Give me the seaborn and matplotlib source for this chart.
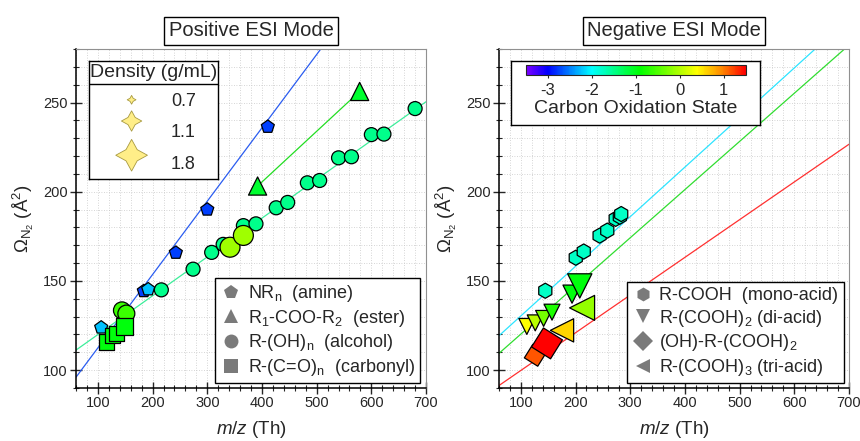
import numpy as np
import pandas as pd
import seaborn as sns
import matplotlib
matplotlib.use("Agg")
import matplotlib.pyplot as plt
from matplotlib.colors import LinearSegmentedColormap, Normalize
from matplotlib.cm import ScalarMappable
from matplotlib.lines import Line2D
from matplotlib.ticker import MultipleLocator

# %% Data
# positive mode: amines, esters, alcohols, carbonyls
amine_mz = [184, 242.5, 300, 410.7, 106, 192]
amine_ccs = [144.3, 165.8, 190, 236.4, 123.9, 145.3]
amine_ox = [-2.75, -2.75, -2.75, -2.75, -2.25, -2.25]
amine_dens = [0.83, 0.83, 0.83, 0.83, 0.83, 0.83]

ester_mz = [392, 578.6]
ester_ccs = [203.2, 256.2]
ester_ox = [-1.1, -1.1]
ester_dens = [1.0, 1.0]

alc_mz = [144, 152, 216, 274, 308, 329, 366, 389, 426, 447, 483, 505.5,
          540, 563.6, 600, 623, 680, 341.6, 366]
alc_ccs = [133.5, 131.7, 145, 156.6, 166, 170.5, 181, 182, 191, 194, 205,
           206.3, 219, 219.6, 232, 232.3, 246.6, 168.9, 175.5]
alc_ox = [-0.6, -0.6] + [-1.5] * 15 + [-0.1, -0.1]
alc_dens = [0.95, 0.95] + [0.84] * 15 + [1.08, 1.08]

carb_mz = [115, 126, 134, 148]
carb_ccs = [115.8, 119.5, 120.5, 124.5]
carb_ox = [-0.95, -0.95, -0.95, -0.95]
carb_dens = [0.88, 0.88, 0.88, 0.95]

# negative mode: mono-, di-, tri-acids and hydroxy di-acids
mono_mz = [144.7, 200.4, 215, 244, 258, 273.4, 281, 283.5]
mono_ccs = [144.5, 163, 166.5, 175.4, 178.2, 184.8, 186, 187.5]
mono_ox = [-1.75] * 8
mono_dens = [0.88] * 8

di_mz = [110.9, 126.3, 141.6, 157, 193.6, 207.7]
di_ccs = [124.5, 126.5, 129, 132.5, 142.6, 147.2]
di_ox = [0.4, 0.05, -0.3, -0.75, -0.95, -0.95]
di_dens = [0.91, 0.91, 0.91, 0.91, 1.0, 1.31]

tri_mz = [175.3, 212]
tri_ccs = [122.3, 134.9]
tri_ox = [0.6, -0.15]
tri_dens = [1.25, 1.35]

hyd_mz = [126.3, 147.8]
hyd_ccs = [108.3, 115]
hyd_ox = [1.15, 1.5]
hyd_dens = [1.2, 1.8]

# trend lines (intercept, slope)
pos_lines = {"#2a5cf0": (71.4, 0.411), "#3cee9a": (98.2, 0.2175)}
neg_lines = {"#2ce4ff": (102.6, 0.278), "#30dd30": (93.2, 0.270), "#ff3030": (78.7, 0.2113)}

dens_levels = [0.7, 1.1, 1.8]
cbar_ticks = [-3, -2, -1, 0, 1]


def make_df(parts):
    rows = []
    for cls, mz, ccs, ox, dens in parts:
        rows.append(pd.DataFrame({"mz": mz, "ccs": ccs, "ox": ox, "dens": dens, "cls": cls}))
    return pd.concat(rows, ignore_index=True)


df_pos = make_df([
    ("amine", amine_mz, amine_ccs, amine_ox, amine_dens),
    ("ester", ester_mz, ester_ccs, ester_ox, ester_dens),
    ("alcohol", alc_mz, alc_ccs, alc_ox, alc_dens),
    ("carbonyl", carb_mz, carb_ccs, carb_ox, carb_dens),
])
df_neg = make_df([
    ("mono", mono_mz, mono_ccs, mono_ox, mono_dens),
    ("di", di_mz, di_ccs, di_ox, di_dens),
    ("tri", tri_mz, tri_ccs, tri_ox, tri_dens),
    ("hydroxy", hyd_mz, hyd_ccs, hyd_ox, hyd_dens),
])

# %% Style
sns.set_style("ticks")
plt.rcParams["font.family"] = ["Liberation Sans", "DejaVu Sans"]
plt.rcParams["mathtext.fontset"] = "custom"
plt.rcParams["mathtext.rm"] = "Liberation Sans"
plt.rcParams["mathtext.it"] = "Liberation Sans:italic"
plt.rcParams["mathtext.bf"] = "Liberation Sans:bold"
plt.rcParams["axes.unicode_minus"] = False

cmap = LinearSegmentedColormap.from_list("ox", [
    (0.0, "#8000ff"), (0.1, "#0000ff"), (0.3, "#00ffff"), (0.52, "#00ff00"),
    (0.78, "#ffff00"), (0.9, "#ff8000"), (1.0, "#ff0000")])
norm = Normalize(-3.5, 1.5)
size_kw = dict(sizes=(40, 520), size_norm=(0.7, 1.8))

fig = plt.figure(figsize=(8.6, 4.41), dpi=100)
ax1 = fig.add_axes([0.0884, 0.1202, 0.407, 0.7687])
ax2 = fig.add_axes([0.5802, 0.1202, 0.407, 0.7687])

xs = np.array([60, 700])
for ax, lines in [(ax1, pos_lines), (ax2, neg_lines)]:
    for color, (b0, b1) in lines.items():
        sns.lineplot(x=xs, y=b0 + b1 * xs, color=color, lw=0.9, ax=ax, zorder=2)

sns.lineplot(data=df_pos[df_pos.cls == "ester"], x="mz", y="ccs", color="#22dd22",
             lw=0.9, ax=ax1, zorder=2)

sns.scatterplot(data=df_pos, x="mz", y="ccs", hue="ox", palette=cmap, hue_norm=norm,
                size="dens", style="cls",
                markers={"amine": "p", "ester": "^", "alcohol": "o", "carbonyl": "s"},
                edgecolor="black", linewidth=0.9, legend=False, ax=ax1, zorder=3, **size_kw)
sns.scatterplot(data=df_neg, x="mz", y="ccs", hue="ox", palette=cmap, hue_norm=norm,
                size="dens", style="cls",
                markers={"mono": "h", "di": "v", "tri": "<", "hydroxy": (4, 0, 13)},
                edgecolor="black", linewidth=0.9, legend=False, ax=ax2, zorder=3, **size_kw)

for ax, title in [(ax1, "Positive ESI Mode"), (ax2, "Negative ESI Mode")]:
    ax.set_xlim(60, 700)
    ax.set_ylim(90, 280)
    ax.xaxis.set_major_locator(MultipleLocator(100))
    ax.xaxis.set_minor_locator(MultipleLocator(20))
    ax.yaxis.set_major_locator(MultipleLocator(50))
    ax.yaxis.set_minor_locator(MultipleLocator(10))
    ax.grid(which="both", ls=(0, (1, 2)), color="#c8c8c8", lw=0.6, zorder=0)
    ax.set_axisbelow(True)
    ax.tick_params(which="major", direction="inout", length=8, width=1, labelsize=10.5, pad=2)
    ax.tick_params(which="minor", direction="inout", length=4, width=0.8)
    for s in ["left", "bottom"]:
        ax.spines[s].set_color("black")
        ax.spines[s].set_linewidth(1.1)
    for s in ["top", "right"]:
        ax.spines[s].set_color("#909090")
        ax.spines[s].set_linewidth(0.8)
    ax.set_xlabel(r"$m/z$ (Th)", fontsize=13.5, labelpad=6)
    ax.set_ylabel(r"$\Omega_{\mathrm{N_2}}$ ($\mathrm{\AA}^{2}$)", fontsize=13.5, labelpad=5)
    ax.set_title(title, fontsize=14.5, pad=9,
                 bbox=dict(boxstyle="square,pad=0.22", fc="white", ec="black", lw=1))

# %% Shape legends
def shape_handles(markers, labels):
    return [Line2D([], [], ls="", marker=m, color="#7a7a7a", markersize=10, markeredgewidth=0)
            for m in markers], labels


h, l = shape_handles(["p", "^", "o", "s"],
                     [r"NR$_\mathrm{n}$  (amine)", r"R$_\mathrm{1}$-COO-R$_\mathrm{2}$  (ester)",
                      r"R-(OH)$_\mathrm{n}$  (alcohol)", r"R-(C=O)$_\mathrm{n}$  (carbonyl)"])
leg = ax1.legend(h, l, loc="lower right", bbox_to_anchor=(0.983, 0.014), fontsize=13,
                 frameon=True, fancybox=False, edgecolor="black", framealpha=1,
                 handletextpad=0.3, handlelength=1.2, labelspacing=0.2, borderpad=0.3,
                 borderaxespad=0)
leg.get_frame().set_linewidth(1)

h, l = shape_handles(["h", "v", "D", "<"],
                     ["R-COOH  (mono-acid)", r"R-(COOH)$_\mathrm{2}$ (di-acid)",
                      r"(OH)-R-(COOH)$_\mathrm{2}$", r"R-(COOH)$_\mathrm{3}$ (tri-acid)"])
leg = ax2.legend(h, l, loc="lower right", bbox_to_anchor=(0.985, 0.014), fontsize=13,
                 frameon=True, fancybox=False, edgecolor="black", framealpha=1,
                 handletextpad=0.3, handlelength=1.2, labelspacing=0.2, borderpad=0.3,
                 borderaxespad=0)
leg.get_frame().set_linewidth(1)

# %% Density legend box
dax = ax1.inset_axes([0.037, 0.617, 0.369, 0.348])
dax.set_xlim(0, 1)
dax.set_ylim(0, 1)
dax.set_xticks([])
dax.set_yticks([])
for s in dax.spines.values():
    s.set_color("black")
    s.set_linewidth(1)
dax.axhline(0.805, color="black", lw=1)
dax.text(0.5, 0.9, "Density (g/mL)", ha="center", va="center", fontsize=14)
sns.scatterplot(x=[0.33, 0.33, 0.33], y=[0.67, 0.49, 0.2], size=dens_levels,
                marker=(4, 1, 0), color="#ffee88", edgecolor="#a89a40", linewidth=0.6,
                legend=False, ax=dax, **size_kw)
for yy, lab in zip([0.655, 0.39, 0.125], dens_levels):
    dax.text(0.73, yy, f"{lab}", ha="center", va="center", fontsize=13)

# %% Colorbar box
bax = ax2.inset_axes([0.034, 0.776, 0.711, 0.189])
bax.set_xticks([])
bax.set_yticks([])
for s in bax.spines.values():
    s.set_color("black")
    s.set_linewidth(1)
cax = ax2.inset_axes([0.076, 0.923, 0.629, 0.0295])
cax.set_zorder(bax.get_zorder() + 1)
cb = fig.colorbar(ScalarMappable(norm=norm, cmap=cmap), cax=cax, orientation="horizontal")
cb.set_ticks(cbar_ticks)
cb.ax.tick_params(length=2, labelsize=12, pad=4)
cb.outline.set_linewidth(0.8)
cb.set_label("Carbon Oxidation State", fontsize=14, labelpad=1)

fig.savefig("out.png", dpi=100)
